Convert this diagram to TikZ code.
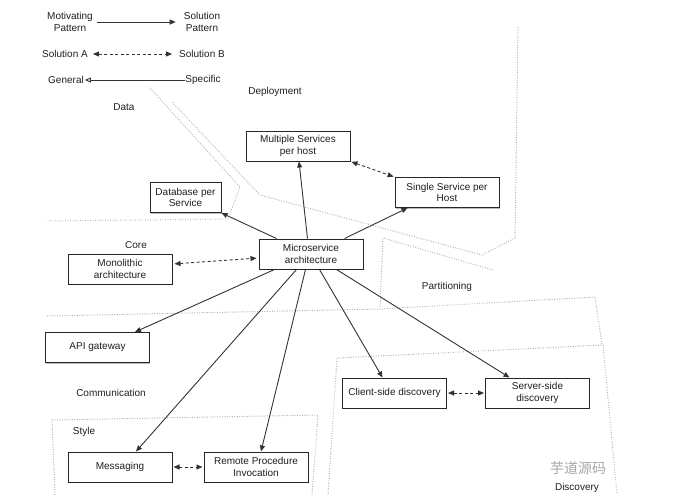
\documentclass[tikz,border=0pt]{standalone}
\usepackage{fontspec}
\setmainfont{Liberation Sans}
\newfontfamily\cjk{Noto Sans CJK SC}
\usetikzlibrary{arrows.meta,positioning,shadows}

\begin{document}
\begin{tikzpicture}[x=1pt, y=-1pt, >={Triangle[length=6pt,width=5pt]},
    font=\fontsize{10}{11.3}\selectfont, text=black!88,
    b/.style={draw=black!85, line width=1pt, fill=white, align=center, inner sep=1pt,
      minimum width=104pt, minimum height=30pt,
      drop shadow={shadow xshift=0.8pt, shadow yshift=-1.2pt, fill=black!55}},
    a/.style={->, draw=black!80, line width=0.9pt},
    d/.style={<->, draw=black!80, line width=0.9pt, dash pattern=on 3pt off 2.5pt},
    zone/.style={draw=black!30, line width=1pt, dash pattern=on 0.9pt off 1.6pt},
    lbl/.style={align=center, inner sep=2pt}]
  \useasboundingbox (0,0) rectangle (696,501);

  % region borders
  \draw[zone] (150,88) -- (240,187) -- (228,219) -- (47,221);
  \draw[zone] (172,102) -- (260,195) -- (482,255) -- (515,238) -- (518,27);
  \draw[zone] (493,270) -- (383,238) -- (380,308);
  \draw[zone] (47,316) -- (380,309) -- (595,297) -- (602,345);
  \draw[zone] (328,494) -- (337,358) -- (603,345) -- (617,494);
  \draw[zone] (55,495) -- (52,420) -- (318,415) -- (312,495);

  % region names
  \node[lbl] (tdata) at (124,107) {Data};
  \node[lbl] (tdep) at (275,92) {Deployment};
  \node[lbl] (tcore) at (136,245) {Core};
  \node[lbl] (tpart) at (447,287) {Partitioning};
  \node[lbl] (tcomm) at (111,393) {Communication};
  \node[lbl] (tstyle) at (84,432) {Style};
  \node[lbl] (tdisc) at (577,488) {Discovery};

  % legend
  \node[lbl] (mot) at (70,22) {Motivating\\Pattern};
  \node[lbl] (sol) at (202,22) {Solution\\Pattern};
  \draw[a, shorten <=2pt, shorten >=6pt] (mot) -- (sol);
  \node[lbl] (sola) at (65,54) {Solution A};
  \node[lbl] (solb) at (202,54) {Solution B};
  \draw[d, shorten <=3pt, shorten >=5pt] (sola) -- (solb);
  \node[lbl, inner sep=0pt] (gen) at (66,80) {General};
  \node[lbl, inner sep=0pt] (spec) at (203,80) {Specific};
  \draw[-{Triangle[open,length=6pt,width=5pt]}, draw=black!80, line width=0.9pt, shorten >=1pt] (spec) -- (gen);

  % patterns
  \node[b] (msa) at (311,254) {Microservice\\architecture};
  \node[b] (mph) at (298,146) {Multiple Services\\per host};
  \node[b, minimum width=71pt] (dbs) at (185.5,197.5) {Database per\\Service};
  \node[b] (ssh) at (447,192.5) {Single Service per\\Host};
  \node[b] (mono) at (120,269) {Monolithic\\architecture};
  \node[b] (api) at (97.5,347.5) {API gateway};
  \node[b] (csd) at (394.5,393) {Client-side discovery};
  \node[b, right=38pt of csd] (ssd) {Server-side\\discovery};
  \node[b] (msg) at (120,467) {Messaging};
  \node[b, right=31pt of msg] (rpi) {Remote Procedure\\Invocation};

  % relations
  \draw[a] ([xshift=18pt]msa.north west) -- (dbs.south east);
  \draw[a] ([xshift=49pt]msa.north west) -- ([xshift=1pt]mph.south);
  \draw[a] ([xshift=86pt]msa.north west) -- ([xshift=13pt]ssh.south west);
  \draw[a] ([xshift=16pt]msa.south west) -- ([xshift=-15pt]api.north east);
  \draw[a] ([xshift=38pt]msa.south west) -- ([xshift=16pt]msg.north);
  \draw[a] ([xshift=47pt]msa.south west) -- ([xshift=5pt]rpi.north);
  \draw[a] ([xshift=61pt]msa.south west) -- ([xshift=-12pt]csd.north);
  \draw[a] ([xshift=78pt]msa.south west) -- ([xshift=-28pt]ssd.north);
  \draw[d, shorten <=2pt, shorten >=2pt] ([yshift=5pt]mono.east) -- ([yshift=-4pt]msa.west);
  \draw[d, shorten <=1pt, shorten >=1pt] (mph.south east) -- (ssh.north west);
  \draw[d, shorten <=1pt, shorten >=1pt] (csd) -- (ssd);
  \draw[d, shorten <=1pt, shorten >=1pt] (msg) -- (rpi);

  % watermark
  \node[text=black!35, font=\cjk\fontsize{14}{14}\selectfont] (wm) at (578,468) {芋道源码};
\end{tikzpicture}
\end{document}
